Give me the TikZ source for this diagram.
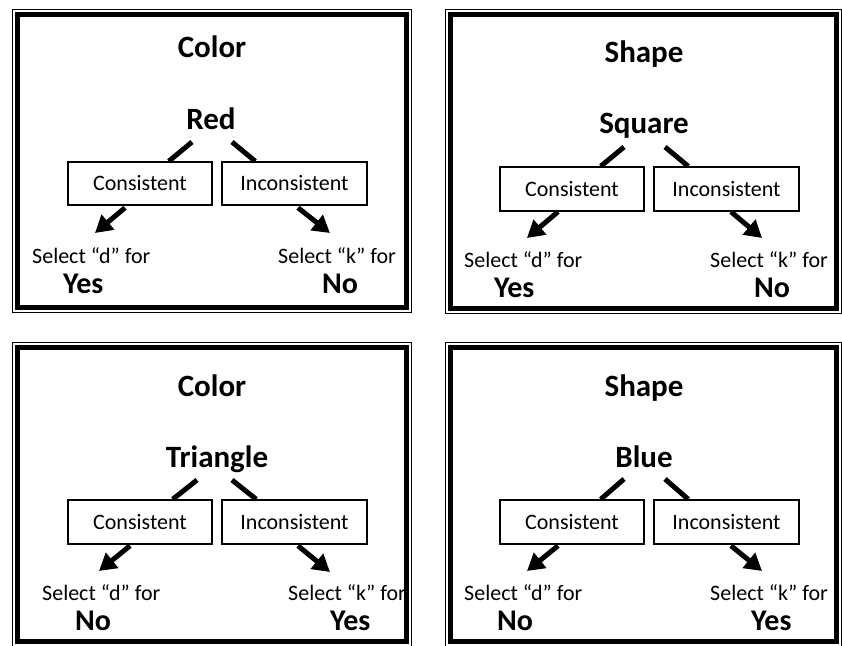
\documentclass[tikz,border=0pt]{standalone}
\usepackage{fontspec}
\setmainfont{Carlito}
\usetikzlibrary{arrows.meta,calc}
\begin{document}
\begin{tikzpicture}[x=1pt,y=-1pt,
  title/.style={font=\fontsize{31}{36}\selectfont\bfseries, anchor=base, inner sep=0},
  answer/.style={font=\fontsize{30}{36}\selectfont\bfseries, anchor=base west, inner sep=0},
  sel/.style={font=\fontsize{22}{26}\selectfont, anchor=base west, inner sep=0},
  choice/.style={draw, line width=1.5pt, font=\fontsize{22}{26}\selectfont, minimum height=43pt, inner sep=0},
  link/.style={line width=5pt},
  arr/.style={line width=5pt, -{Triangle[length=17pt,width=19pt]}},
  frameout/.style={line width=1pt},
  frameband/.style={line width=5pt},
]
\useasboundingbox (0,0) rectangle (842,645);

% ---------- Panel 1 ----------
\node[title] (t1) at (212,57) {Color};
\node[title] (s1) at (211,129) {Red};
\node[choice, minimum width=144pt] (c1) at (140,183.5) {Consistent};
\node[choice, minimum width=145pt] (i1) at (294.5,183.5) {Inconsistent};
\node[sel] (sd1) at (32,263) {Select “d” for};
\node[answer] (a1) at (63,293) {Yes};
\node[sel] (sk1) at (278,263) {Select “k” for};
\node[answer] (b1) at (322,293) {No};
\coordinate (u1l) at (192,142);
\coordinate (u1r) at (232,142);
\coordinate (e1l) at (95,233);
\coordinate (e1r) at (330,233);
\draw[link] (u1l) -- ($(c1.north east)+(-44,0)$);
\draw[link] (u1r) -- ($(i1.north west)+(34,0)$);
\draw[arr] ($(c1.south)+(-15,2)$) -- (e1l);
\draw[arr] ($(i1.south)+(3.5,2)$) -- (e1r);
\draw[frameout] (12,9) rectangle (411,312);
\draw[frameband] (17,14) rectangle (406,307);

% ---------- Panel 2 ----------
\node[title] (t2) at (644,62) {Shape};
\node[title] (s2) at (644,133) {Square};
\node[choice, minimum width=144pt, minimum height=44pt] (c2) at (572,189) {Consistent};
\node[choice, minimum width=145pt, minimum height=44pt] (i2) at (726.5,189) {Inconsistent};
\node[sel] (sd2) at (464,267) {Select “d” for};
\node[answer] (a2) at (494,297) {Yes};
\node[sel] (sk2) at (710,267) {Select “k” for};
\node[answer] (b2) at (754,297) {No};
\coordinate (u2l) at (624,147);
\coordinate (u2r) at (665,147);
\coordinate (e2l) at (527,238);
\coordinate (e2r) at (762,238);
\draw[link] (u2l) -- ($(c2.north east)+(-44,0)$);
\draw[link] (u2r) -- ($(i2.north west)+(35,0)$);
\draw[arr] ($(c2.south)+(-14,0)$) -- (e2l);
\draw[arr] ($(i2.south)+(4.5,0)$) -- (e2r);
\draw[frameout] (445,9) rectangle (841,313);
\draw[frameband] (450,14) rectangle (836,308);

% ---------- Panel 3 ----------
\node[title] (t3) at (212,396) {Color};
\node[title] (s3) at (217,467) {Triangle};
\node[choice, minimum width=144pt, minimum height=44pt] (c3) at (140,522) {Consistent};
\node[choice, minimum width=145pt, minimum height=44pt] (i3) at (294.5,522) {Inconsistent};
\node[sel] (sd3) at (42,600) {Select “d” for};
\node[answer] (a3) at (75,630) {No};
\node[sel] (sk3) at (288,600) {Select “k” for};
\node[answer] (b3) at (330,630) {Yes};
\coordinate (u3l) at (197,480);
\coordinate (u3r) at (232,480);
\coordinate (e3l) at (99,571);
\coordinate (e3r) at (330,572);
\draw[link] (u3l) -- ($(c3.north east)+(-40,0)$);
\draw[link] (u3r) -- ($(i3.north west)+(35,0)$);
\draw[arr] ($(c3.south)+(-10,1)$) -- (e3l);
\draw[arr] ($(i3.south)+(3.5,1)$) -- (e3r);
\draw[frameout] (12,342) rectangle (411,646);
\draw[frameband] (17,347) rectangle (406,641);

% ---------- Panel 4 ----------
\node[title] (t4) at (644,396) {Shape};
\node[title] (s4) at (644,467) {Blue};
\node[choice, minimum width=144pt, minimum height=44pt] (c4) at (572,522) {Consistent};
\node[choice, minimum width=145pt, minimum height=44pt] (i4) at (726.5,522) {Inconsistent};
\node[sel] (sd4) at (464,600) {Select “d” for};
\node[answer] (a4) at (497,630) {No};
\node[sel] (sk4) at (710,600) {Select “k” for};
\node[answer] (b4) at (751,630) {Yes};
\coordinate (u4l) at (624,479);
\coordinate (u4r) at (665,479);
\coordinate (e4l) at (527,571);
\coordinate (e4r) at (762,571);
\draw[link] (u4l) -- ($(c4.north east)+(-44,0)$);
\draw[link] (u4r) -- ($(i4.north west)+(35,0)$);
\draw[arr] ($(c4.south)+(-14,1)$) -- (e4l);
\draw[arr] ($(i4.south)+(4.5,1)$) -- (e4r);
\draw[frameout] (445,342) rectangle (841,646);
\draw[frameband] (450,347) rectangle (836,641);
\end{tikzpicture}
\end{document}
